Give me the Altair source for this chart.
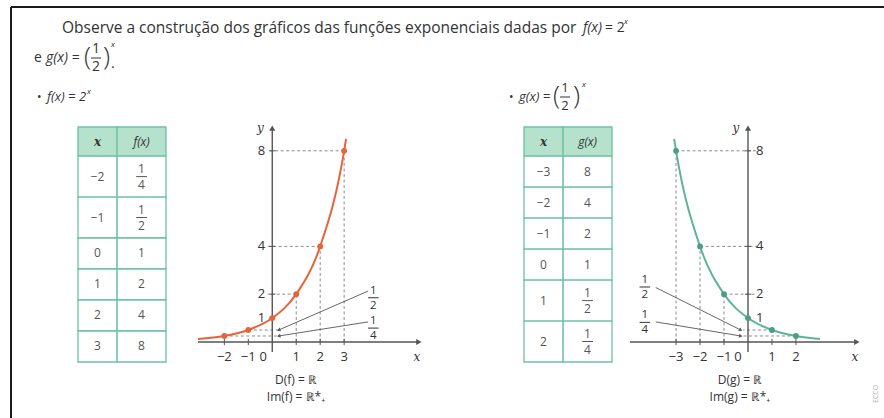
import math
import altair as alt
import pandas as pd

# ---------------- values ----------------
# table of f(x) = 2^x
f_x = [-2, -1, 0, 1, 2, 3]
f_lab = ["1/4", "1/2", "1", "2", "4", "8"]
# table of g(x) = (1/2)^x
g_x = [-3, -2, -1, 0, 1, 2]
g_lab = ["8", "4", "2", "1", "1/2", "1/4"]

# where each drawn curve starts and stops beyond the tabulated points
f_ends_x = [-3.1, 3.08]
f_ends_y = [0.12, 8.5]
g_ends_x = [-3.08, 3.0]
g_ends_y = [8.5, 0.125]

# axis labels
f_xticks = [-2, -1, 1, 2, 3]
g_xticks = [-3, -2, -1, 1, 2]
y_ticks = [1, 2, 4, 8]

# ---------------- style ----------------
FONT = "Open Sans"
INK = "#333333"
SOFT = "#555555"
ORANGE = "#e8623a"
TEAL = "#5db49a"
TEAL_DARK = "#4c9e86"
DASH = "#8c8c8c"
TBL_LINE = "#6cc2a4"
TBL_HEAD = "#b5e1cd"


def val(s):
    if "/" in s:
        n, d = s.split("/")
        return float(n) / float(d)
    return float(s)


def num(v):
    return str(v).replace("-", "\u2212")


def txt(s, x, y, size=13, align="left", style="normal", weight="normal",
        color=INK, angle=0, font=FONT):
    return alt.Chart(pd.DataFrame({"t": [s]})).mark_text(
        font=font, fontSize=size, align=align, baseline="middle",
        fontStyle=style, fontWeight=weight, color=color, angle=angle
    ).encode(x=alt.value(x), y=alt.value(y), text="t:N")


def prule(x, y, x2, y2, color=INK, width=1.0):
    return alt.Chart(pd.DataFrame({"a": [0]})).mark_rule(
        color=color, strokeWidth=width
    ).encode(x=alt.value(x), y=alt.value(y), x2=alt.value(x2), y2=alt.value(y2))


# ---------------- tables ----------------
def table(xs, labels, head, left, top):
    unit = 31.0
    heights = [0.94] + [1.32 if "/" in l else 1.0 for l in labels]
    bounds = [0.0]
    for h in heights:
        bounds.append(bounds[-1] + h)
    total = bounds[-1]
    xsc = alt.Scale(domain=[0, 1.8], range=[left, left + 88], nice=False, zero=False)
    ysc = alt.Scale(domain=[0, total], range=[top, top + total * unit], nice=False, zero=False)

    cells = []
    for r in range(len(heights)):
        for c0, c1 in [(0.0, 0.8), (0.8, 1.8)]:
            cells.append({"x0": c0, "x1": c1, "y0": bounds[r], "y1": bounds[r + 1],
                          "fill": TBL_HEAD if r == 0 else "#ffffff"})
    cells = pd.DataFrame(cells)
    rect = alt.Chart(cells).mark_rect(stroke=TBL_LINE, strokeWidth=1.3).encode(
        x=alt.X("x0:Q", scale=xsc, axis=None), x2="x1",
        y=alt.Y("y0:Q", scale=ysc, axis=None), y2="y1",
        fill=alt.Fill("fill:N", scale=None),
    )

    hy = (bounds[0] + bounds[1]) / 2
    head_df = pd.DataFrame({"cx": [0.4, 1.3], "cy": [hy, hy], "t": ["x", head]})
    head_x = alt.Chart(head_df.iloc[[0]]).mark_text(
        font="DejaVu Serif", fontSize=12, fontStyle="italic", fontWeight="bold", color=INK
    ).encode(x=alt.X("cx:Q", scale=xsc), y=alt.Y("cy:Q", scale=ysc), text="t:N")
    head_v = alt.Chart(head_df.iloc[[1]]).mark_text(
        font=FONT, fontSize=12, fontStyle="italic", color=INK
    ).encode(x=alt.X("cx:Q", scale=xsc), y=alt.Y("cy:Q", scale=ysc), text="t:N")

    centers = [(bounds[i + 1] + bounds[i + 2]) / 2 for i in range(len(labels))]
    col_x = pd.DataFrame({"cx": [0.4] * len(xs), "cy": centers, "t": [num(v) for v in xs]})
    col_x_layer = alt.Chart(col_x).mark_text(font=FONT, fontSize=12, color=SOFT).encode(
        x=alt.X("cx:Q", scale=xsc), y=alt.Y("cy:Q", scale=ysc), text="t:N")

    whole = pd.DataFrame([{"cx": 1.3, "cy": c, "t": l} for c, l in zip(centers, labels) if "/" not in l])
    fr = pd.DataFrame([{"cx": 1.3, "cy": c, "n": l.split("/")[0], "d": l.split("/")[1],
                        "a": 1.3 - 0.11, "b": 1.3 + 0.11}
                       for c, l in zip(centers, labels) if "/" in l])
    whole_layer = alt.Chart(whole).mark_text(font=FONT, fontSize=12, color=SOFT).encode(
        x=alt.X("cx:Q", scale=xsc), y=alt.Y("cy:Q", scale=ysc), text="t:N")
    num_layer = alt.Chart(fr).mark_text(font=FONT, fontSize=12, color=SOFT, dy=-8).encode(
        x=alt.X("cx:Q", scale=xsc), y=alt.Y("cy:Q", scale=ysc), text="n:N")
    den_layer = alt.Chart(fr).mark_text(font=FONT, fontSize=12, color=SOFT, dy=8).encode(
        x=alt.X("cx:Q", scale=xsc), y=alt.Y("cy:Q", scale=ysc), text="d:N")
    bar_layer = alt.Chart(fr).mark_rule(color=SOFT, strokeWidth=1).encode(
        x=alt.X("a:Q", scale=xsc), x2="b", y=alt.Y("cy:Q", scale=ysc))
    return alt.layer(rect, head_x, head_v, col_x_layer, whole_layer,
                     num_layer, den_layer, bar_layer)


# ---------------- graphs ----------------
def graph(xs, labels, ends_x, ends_y, xdom, xrng, color, pt_color, xticks,
          ylab_side, zero_dx, arrows, frac_pos):
    ydom, yrng = [-0.42, 9.08], [352, 125]
    xsc = alt.Scale(domain=xdom, range=xrng, nice=False, zero=False)
    ysc = alt.Scale(domain=ydom, range=yrng, nice=False, zero=False)
    kx = (xrng[1] - xrng[0]) / (xdom[1] - xdom[0])
    ky = (yrng[1] - yrng[0]) / (ydom[1] - ydom[0])

    def X(f):
        return alt.X(f, type="quantitative", scale=xsc, axis=None)

    def Y(f):
        return alt.Y(f, type="quantitative", scale=ysc, axis=None)

    ys = [val(l) for l in labels]
    pts = pd.DataFrame({"x": xs, "y": ys})
    curve = pd.concat([pts, pd.DataFrame({"x": ends_x, "y": ends_y})]).sort_values("x")

    # dashed guides from each point to the axes
    hz, vt = [], []
    for x, y in zip(xs, ys):
        if x == 0:
            continue
        over = 0.3 if x < 0 else -0.2
        if ylab_side == "right" and x < 0:
            over = 0.38
        hz.append({"x": x, "x2": over, "y": y})
        if y > 1:
            vt.append({"x": x, "y": 0, "y2": y})
    hz = pd.DataFrame(hz)
    vt = pd.DataFrame(vt)
    dash_h = alt.Chart(hz).mark_rule(color=DASH, strokeDash=[3, 2.5], strokeWidth=1).encode(
        x=X("x"), x2="x2", y=Y("y"))
    dash_v = alt.Chart(vt).mark_rule(color=DASH, strokeDash=[3, 2.5], strokeWidth=1).encode(
        x=X("x"), y=Y("y"), y2="y2")

    # axes
    ax_x = alt.Chart(pd.DataFrame({"a": [xdom[0]], "b": [xdom[1] - 0.2], "y": [0]})).mark_rule(
        color=SOFT, strokeWidth=1.4).encode(x=X("a"), x2="b", y=Y("y"))
    ax_y = alt.Chart(pd.DataFrame({"x": [0], "a": [ydom[0]], "b": [ydom[1] - 0.2]})).mark_rule(
        color=SOFT, strokeWidth=1.4).encode(x=X("x"), y=Y("a"), y2="b")
    head_x = alt.Chart(pd.DataFrame({"x": [xdom[1] - 0.13], "y": [0]})).mark_point(
        shape="triangle-right", filled=True, size=38, color=SOFT, opacity=1).encode(x=X("x"), y=Y("y"))
    head_y = alt.Chart(pd.DataFrame({"x": [0], "y": [ydom[1] - 0.13]})).mark_point(
        shape="triangle-up", filled=True, size=38, color=SOFT, opacity=1).encode(x=X("x"), y=Y("y"))

    tk = pd.DataFrame({"x": xticks, "a": [-0.13] * len(xticks), "b": [0.13] * len(xticks)})
    ticks_x = alt.Chart(tk).mark_rule(color=SOFT, strokeWidth=1).encode(x=X("x"), y=Y("a"), y2="b")
    ty = pd.DataFrame({"y": y_ticks, "a": [-0.13] * 4, "b": [0.13] * 4})
    ticks_y = alt.Chart(ty).mark_rule(color=SOFT, strokeWidth=1).encode(y=Y("y"), x=X("a"), x2="b")

    xl = pd.DataFrame({"x": xticks, "y": [0] * len(xticks), "t": [num(v) for v in xticks]})
    xlab = alt.Chart(xl).mark_text(font=FONT, fontSize=13, color=INK, dy=15).encode(
        x=X("x"), y=Y("y"), text="t:N")
    zl = alt.Chart(pd.DataFrame({"x": [0], "y": [0], "t": ["0"]})).mark_text(
        font=FONT, fontSize=13, color=INK, dy=15, dx=zero_dx).encode(x=X("x"), y=Y("y"), text="t:N")
    yl = pd.DataFrame({"x": [0] * 4, "y": y_ticks, "t": [str(v) for v in y_ticks]})
    if ylab_side == "left":
        ylab = alt.Chart(yl).mark_text(font=FONT, fontSize=13, color=INK, align="right", dx=-7).encode(
            x=X("x"), y=Y("y"), text="t:N")
    else:
        ylab = alt.Chart(yl).mark_text(font=FONT, fontSize=13, color=INK, align="left", dx=8).encode(
            x=X("x"), y=Y("y"), text="t:N")
    name_y = alt.Chart(pd.DataFrame({"x": [0], "y": [ydom[1]], "t": ["y"]})).mark_text(
        font="DejaVu Serif", fontSize=12, fontStyle="italic", color=INK, dx=-12, dy=3).encode(
        x=X("x"), y=Y("y"), text="t:N")
    name_x = alt.Chart(pd.DataFrame({"x": [xdom[1]], "y": [0], "t": ["x"]})).mark_text(
        font="DejaVu Serif", fontSize=12, fontStyle="italic", color=INK, dx=-5, dy=15).encode(
        x=X("x"), y=Y("y"), text="t:N")

    line = alt.Chart(curve).mark_line(color=color, strokeWidth=2, interpolate="monotone").encode(
        x=X("x"), y=Y("y"))
    dots = alt.Chart(pts).mark_circle(color=pt_color, size=34, opacity=1).encode(x=X("x"), y=Y("y"))

    # leader lines pointing at 1/2 and 1/4 on the y axis
    ld = pd.DataFrame(arrows)
    leaders = alt.Chart(ld).mark_rule(color=SOFT, strokeWidth=0.9).encode(
        x=X("x0"), y=Y("y0"), x2="x1", y2="y1")
    tips = []
    for a in arrows:
        ang = math.degrees(math.atan2((a["y1"] - a["y0"]) * ky, (a["x1"] - a["x0"]) * kx)) % 360
        tips.append(alt.Chart(pd.DataFrame([a])).mark_point(
            shape="triangle-right", filled=True, size=16, color=SOFT, opacity=1, angle=ang
        ).encode(x=X("x1"), y=Y("y1")))

    fp = pd.DataFrame(frac_pos)
    fp["a"] = fp["x"] - 0.22
    fp["b"] = fp["x"] + 0.22
    fnum = alt.Chart(fp).mark_text(font=FONT, fontSize=11.5, color=INK, dy=-7).encode(
        x=X("x"), y=Y("y"), text="n:N")
    fden = alt.Chart(fp).mark_text(font=FONT, fontSize=11.5, color=INK, dy=8).encode(
        x=X("x"), y=Y("y"), text="d:N")
    fbar = alt.Chart(fp).mark_rule(color=INK, strokeWidth=1).encode(x=X("a"), x2="b", y=Y("y"))

    return alt.layer(dash_h, dash_v, ax_x, ax_y, head_x, head_y, ticks_x, ticks_y,
                     xlab, zl, ylab, name_y, name_x, leaders, *tips, fnum, fden, fbar,
                     line, dots)


f_half, f_quarter = val(f_lab[1]), val(f_lab[0])
g_half, g_quarter = val(g_lab[4]), val(g_lab[5])

graph_f = graph(
    f_x, f_lab, f_ends_x, f_ends_y, [-3.1, 6.25], [198, 422], ORANGE, ORANGE, f_xticks,
    "left", -9,
    [{"x0": 4.0, "y0": 2.13, "x1": 0.27, "y1": f_half},
     {"x0": 4.0, "y0": 0.84, "x1": 0.27, "y1": f_quarter}],
    [{"x": 4.22, "y": 1.85, "n": "1", "d": "2"}, {"x": 4.22, "y": 0.58, "n": "1", "d": "4"}],
)
graph_g = graph(
    g_x, g_lab, g_ends_x, g_ends_y, [-4.92, 4.67], [630, 860], TEAL, TEAL_DARK, g_xticks,
    "right", -10,
    [{"x0": -3.85, "y0": 2.28, "x1": -0.3, "y1": g_half},
     {"x0": -3.85, "y0": 0.84, "x1": -0.3, "y1": g_quarter}],
    [{"x": -4.3, "y": 2.3, "n": "1", "d": "2"}, {"x": -4.3, "y": 0.82, "n": "1", "d": "4"}],
)

table_f = table(f_x, f_lab, "f(x)", 78, 127)
table_g = table(g_x, g_lab, "g(x)", 524, 127)

# ---------------- page text ----------------
page = [
    prule(11, 7, 884, 7, color="#1a1a1a", width=2),
    prule(11, 7, 11, 418, color="#1a1a1a", width=2),
    txt("Observe a construção dos gráficos das funções exponenciais dadas por", 62, 28, size=15.5),
    txt("f(x)", 583, 28, size=14, style="italic"),
    txt("= 2", 605, 28, size=14),
    txt("x", 624, 22, size=8, style="italic"),
    # e g(x) = (1/2)^x.
    txt("e", 34, 58, size=14),
    txt("g(x) =", 46, 58, size=14, style="italic"),
    txt("(", 84, 57, size=26, weight=300),
    txt("1", 96, 49, align="center", size=14),
    prule(91, 58, 101, 58, color=INK, width=1),
    txt("2", 96, 67, align="center", size=14),
    txt(")", 103, 57, size=26, weight=300),
    txt("x", 111, 45, size=8, style="italic"),
    txt(".", 111, 64, size=14),
    # bullets
    txt("•", 37, 97, size=12),
    txt("f(x) = 2", 47, 97, size=13, style="italic"),
    txt("x", 87, 92, size=8, style="italic"),
    txt("•", 509, 97, size=12),
    txt("g(x) =", 519, 97, size=13, style="italic"),
    txt("(", 553, 96, size=26, weight=300),
    txt("1", 565, 88, align="center"),
    prule(560, 97, 570, 97, color=INK, width=1),
    txt("2", 565, 106, align="center"),
    txt(")", 573, 96, size=26, weight=300),
    txt("x", 582, 85, size=8, style="italic"),
    # domain / image
    txt("D(f) = ℝ", 296, 380, size=12, align="center", color=INK),
    txt("Im(f) = ℝ*₊", 296, 397, size=12, align="center", color=INK),
    txt("D(g) = ℝ", 740, 380, size=12, align="center", color=INK),
    txt("Im(g) = ℝ*₊", 740, 397, size=12, align="center", color=INK),
    txt("ECCO", 876, 394, size=7, align="center", color="#aaaaaa", angle=270),
]

chart = alt.layer(*page, table_f, table_g, graph_f, graph_g).resolve_scale(
    x="independent", y="independent"
).properties(
    width=884, height=418, autosize=alt.AutoSizeParams(type="none"), padding=0,
    background="#ffffff",
).configure_view(stroke=None)

chart.save("out.html", embed_options={"renderer": "svg", "actions": False})
